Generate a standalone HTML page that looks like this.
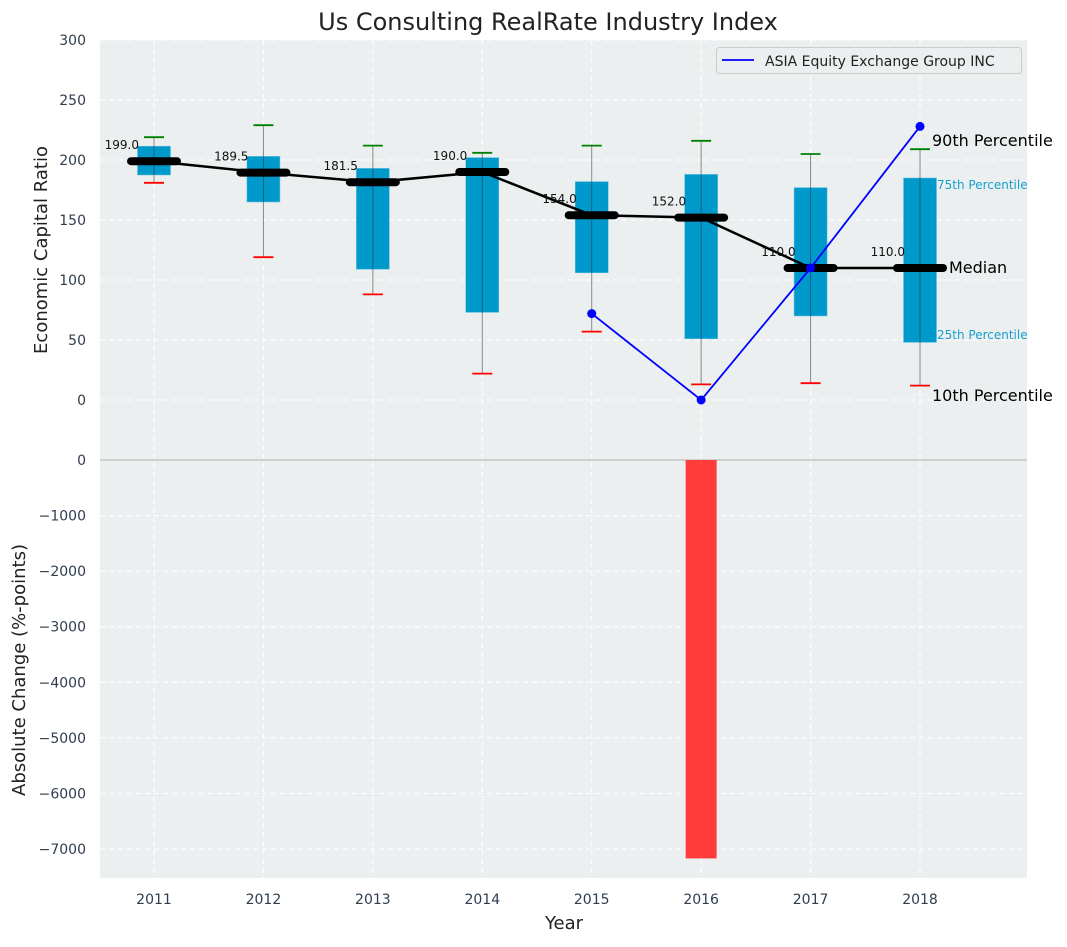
<!DOCTYPE html>
<html><head><meta charset="utf-8"><style>
body{margin:0;background:#fff;}
svg text{font-family:"DejaVu Sans","Liberation Sans",sans-serif;}
</style></head><body>
<svg id="c" width="1067" height="942" xmlns="http://www.w3.org/2000/svg"></svg>
<script>
const years=[2011,2012,2013,2014,2015,2016,2017,2018];
const p10=[181,119,88,22,57,13,14,12];
const p25=[187.5,165,109,73,106,51,70,48];
const med=[199,189.5,181.5,190,154,152,110,110];
const p75=[211.5,203,193,202,182,188,177,185];
const p90=[219,229,212,206,212,216,205,209];
const blueYears=[2015,2016,2017,2018];
const blueVals=[72,0,110,228];
const changeYears=[2016];
const changeVals=[-7170];
const topTicks=[0,50,100,150,200,250,300];
const botTicks=[0,-1000,-2000,-3000,-4000,-5000,-6000,-7000];

const S=document.getElementById('c');const NS='http://www.w3.org/2000/svg';
function el(t,a,txt){const e=document.createElementNS(NS,t);for(const k in a)e.setAttribute(k,a[k]);if(txt!==undefined)e.textContent=txt;S.appendChild(e);return e;}
const L=100,R=1027,T=40,MID=460,B=878;
const x=v=>154+(v-2011)*109.43;
const yt=v=>400-v*1.2;
const yb=v=>MID-v*0.05557;

let e;
e=el('rect',{x:L,y:T,width:R-L,height:B-T,fill:'#ebeff0'});

years.forEach(v=>{e=el('line',{x1:x(v),x2:x(v),y1:T,y2:B,stroke:'#fff','stroke-dasharray':'5,4','stroke-width':1});
});
topTicks.forEach(v=>{e=el('line',{x1:L,x2:R,y1:yt(v),y2:yt(v),stroke:'#fff','stroke-dasharray':'5,4'});

e=el('text',{x:86,y:yt(v)+5,'text-anchor':'end','font-size':14,fill:'#2e3d4f'},v);
});
botTicks.forEach(v=>{e=el('line',{x1:L,x2:R,y1:yb(v),y2:yb(v),stroke:'#fff','stroke-dasharray':'5,4'});

e=el('text',{x:86,y:yb(v)+5,'text-anchor':'end','font-size':14,fill:'#2e3d4f'},v===0?'0':'\u2212'+Math.abs(v));
});
e=el('line',{x1:L,x2:R,y1:MID,y2:MID,stroke:'#b0b0b0','stroke-width':1});


years.forEach((v,i)=>{const cx=x(v);
e=el('line',{x1:cx,x2:cx,y1:yt(p90[i]),y2:yt(p10[i]),stroke:'#888','stroke-width':1});

e=el('rect',{x:cx-16.5,y:yt(p75[i]),width:33,height:yt(p25[i])-yt(p75[i]),fill:'#0099cc',stroke:'#5fc0e0','stroke-width':0.5});

e=el('line',{x1:cx,x2:cx,y1:yt(p75[i]),y2:yt(p25[i]),stroke:'#1a5f78','stroke-width':1});

e=el('line',{x1:cx-10,x2:cx+10,y1:yt(p90[i]),y2:yt(p90[i]),stroke:'green','stroke-width':1.8});

e=el('line',{x1:cx-10,x2:cx+10,y1:yt(p10[i]),y2:yt(p10[i]),stroke:'red','stroke-width':1.8});

});
e=el('polyline',{points:years.map((v,i)=>x(v)+','+yt(med[i])).join(' '),fill:'none',stroke:'#000','stroke-width':2.5});

years.forEach((v,i)=>{const cx=x(v);
e=el('line',{x1:cx-23,x2:cx+23,y1:yt(med[i]),y2:yt(med[i]),stroke:'#000','stroke-width':8,'stroke-linecap':'round'});

e=el('text',{x:cx-15,y:yt(med[i])-12,'text-anchor':'end','font-size':12,fill:'#111'},med[i].toFixed(1));

});
e=el('polyline',{points:blueYears.map((v,i)=>x(v)+','+yt(blueVals[i])).join(' '),fill:'none',stroke:'#0000ff','stroke-width':1.8});

blueYears.forEach((v,i)=>{e=el('circle',{cx:x(v),cy:yt(blueVals[i]),r:4.5,fill:'#0000ff'});
});
changeYears.forEach((v,i)=>{e=el('rect',{x:x(v)-15.5,y:MID,width:31,height:yb(changeVals[i])-MID,fill:'#ff3c3c'});
});
years.forEach(v=>{e=el('text',{x:x(v),y:904,'text-anchor':'middle','font-size':14,fill:'#2e3d4f'},v);
});
e=el('text',{x:932,y:146,'font-size':16,fill:'#000'},'90th Percentile');
e=el('text',{x:937,y:189,'font-size':12,fill:'#1aa0cc'},'75th Percentile');
e=el('text',{x:949,y:273,'font-size':16,fill:'#000'},'Median');
e=el('text',{x:937,y:339,'font-size':12,fill:'#1aa0cc'},'25th Percentile');
e=el('text',{x:932,y:401,'font-size':16,fill:'#000'},'10th Percentile');
e=el('rect',{x:716.5,y:47.5,width:305,height:26,rx:3,fill:'#ebeff0',stroke:'#ccc'});
e=el('line',{x1:722,x2:754,y1:60,y2:60,stroke:'#0000ff','stroke-width':1.8});
e=el('text',{x:765,y:66,'font-size':14,fill:'#222'},'ASIA Equity Exchange Group INC');
e=el('text',{x:548,y:30,'text-anchor':'middle','font-size':24,fill:'#222'},'Us Consulting RealRate Industry Index');
e=el('text',{x:564,y:929,'text-anchor':'middle','font-size':18,fill:'#222'},'Year');
e=el('text',{x:47,y:250,'text-anchor':'middle','font-size':18,fill:'#222',transform:'rotate(-90 47 250)'},'Economic Capital Ratio');
e=el('text',{x:25,y:670,'text-anchor':'middle','font-size':18,fill:'#222',transform:'rotate(-90 25 670)'},'Absolute Change (%-points)');
</script>
</body></html>
